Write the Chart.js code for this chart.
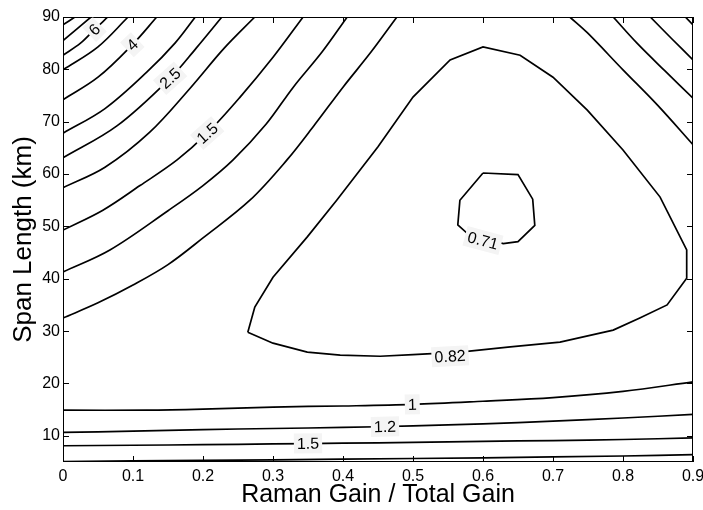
<!DOCTYPE html>
<html>
<head>
<meta charset="utf-8">
<script src="https://cdn.jsdelivr.net/npm/chart.js@4.4.0/dist/chart.umd.min.js"></script>
<style>
  html, body { margin: 0; padding: 0; background: #fff; }
  #wrap { width: 703px; height: 510px; }
</style>
</head>
<body>
<div id="wrap"><canvas id="chartContour" width="703" height="510"></canvas></div>
<script>
// contour lines as [gain ratio, span km] pairs
const lev071 = [[0.6,60.2],[0.65,59.9],[0.671,55.2],[0.674,50.2],[0.65,47.1],[0.629,46.7],[0.579,48.5],[0.564,50.3],[0.567,55],[0.6,60.2]];
const lev082 = [[0.264,29.8],[0.274,34.6],[0.3,40.3],[0.349,48],[0.391,55],[0.45,65.2],[0.5,74.7],[0.553,81.8],[0.6,84.3],[0.653,82.7],[0.7,78.5],[0.749,72.2],[0.8,64.6],[0.853,55.6],[0.891,45.5],[0.891,40.1],[0.863,35],[0.824,32.5],[0.786,30.2],[0.71,27.9],[0.639,27],[0.567,26],[0.5,25.5],[0.453,25.2],[0.396,25.4],[0.349,26],[0.3,27.7],[0.264,29.8]];

const lev1Upper = [[0,32.5],[0.05,35.4],[0.1,38.8],[0.15,42.7],[0.2,47.8],[0.267,55],[0.32,62.7],[0.36,69.5],[0.4,76.6],[0.44,83.3],[0.477,90]];
const lev12Upper = [[0,41.3],[0.067,45.5],[0.15,53],[0.2,57.8],[0.243,62.7],[0.29,69.5],[0.329,76.6],[0.37,83.3],[0.406,90]];
const lev15Upper = [[0,49.3],[0.057,53.1],[0.11,57.8],[0.163,62.7],[0.206,67.8],[0.253,74.7],[0.3,82.3],[0.343,90]];
const lev2Upper = [[0,57.4],[0.06,61.3],[0.124,68],[0.181,76.3],[0.23,84],[0.274,90]];
const lev25Upper = [[0,63.1],[0.077,69.2],[0.153,78.3],[0.19,84],[0.227,90]];
const lev3Upper = [[0,67.8],[0.06,72.5],[0.12,79.5],[0.16,85],[0.189,90]];
const lev4Upper = [[0,74.2],[0.05,78.5],[0.099,84.7],[0.134,90]];
const lev5Upper = [[0,79.9],[0.05,84.3],[0.093,90]];
const lev6Upper = [[0,82.7],[0.025,85],[0.045,87.6],[0.064,90]];
const lev7Upper = [[0,85.5],[0.04,90]];
const lev8Upper = [[0,88.5],[0.017,90]];

const lev1Right = [[0.724,90],[0.749,87],[0.8,79.9],[0.849,73.2],[0.9,65.6]];
const lev12Right = [[0.786,90],[0.82,85],[0.86,79.7],[0.9,74.5]];
const lev15Right = [[0.839,90],[0.87,85.8],[0.9,81.8]];
const lev2Right = [[0.889,90],[0.9,88.5]];

const lev1Lower = [[0,14.9],[0.12,14.9],[0.2,15.1],[0.3,15.5],[0.4,15.7],[0.5,16],[0.6,16.6],[0.7,17.3],[0.8,18.5],[0.9,20.3]];
const lev12Lower = [[0,10.65],[0.1,10.9],[0.2,11.2],[0.3,11.4],[0.4,11.6],[0.5,11.9],[0.6,12.3],[0.7,12.8],[0.8,13.4],[0.9,14.1]];
const lev15Lower = [[0,8.1],[0.1,8.2],[0.2,8.3],[0.3,8.45],[0.4,8.6],[0.5,8.75],[0.6,8.95],[0.7,9.1],[0.8,9.3],[0.9,9.6]];
const lev2Lower = [[0,5.1],[0.2,5.3],[0.4,5.55],[0.6,5.8],[0.8,6.15],[0.9,6.4]];

const smoothLines = [lev1Upper, lev12Upper, lev15Upper, lev2Upper, lev25Upper, lev3Upper, lev4Upper,
  lev5Upper, lev6Upper, lev7Upper, lev8Upper, lev1Right, lev12Right, lev15Right, lev2Right,
  lev1Lower, lev12Lower, lev15Lower, lev2Lower];
const polyLines = [lev082, lev071];

// inline contour labels
const labelText = ['6', '4', '2.5', '1.5', '0.71', '0.82', '1', '1.2', '1.5'];
const labelX = [0.045, 0.099, 0.153, 0.206, 0.6, 0.553, 0.499, 0.46, 0.35];
const labelY = [87.6, 84.7, 78.3, 67.8, 47.3, 25.2, 16.0, 11.75, 8.55];

const FONT = '"Liberation Sans", Arial, Helvetica, sans-serif';

const toPts = c => c.map(p => ({ x: p[0], y: p[1] }));
const datasets = [
  ...smoothLines.map(c => ({ data: toPts(c), tension: 0.35 })),
  ...polyLines.map(c => ({ data: toPts(c), tension: 0 }))
].map(d => Object.assign(d, {
  showLine: true, pointRadius: 0, borderColor: '#000', borderWidth: 1.7, fill: false
}));

function segDist(px, py, ax, ay, bx, by) {
  const dx = bx - ax, dy = by - ay;
  const len = dx * dx + dy * dy || 1;
  let t = ((px - ax) * dx + (py - ay) * dy) / len;
  t = Math.max(0, Math.min(1, t));
  return Math.hypot(px - (ax + t * dx), py - (ay + t * dy));
}

// box with inward tick marks, matlab style
const frame = {
  id: 'frame',
  afterDatasetsDraw(chart) {
    const { ctx, chartArea: a, scales: { x, y } } = chart;
    ctx.save();
    ctx.strokeStyle = '#000';
    ctx.lineWidth = 1;
    ctx.strokeRect(a.left + 0.5, a.top + 0.5, a.right - a.left - 1, a.bottom - a.top - 1);
    ctx.beginPath();
    x.ticks.forEach(t => {
      const px = Math.round(x.getPixelForValue(t.value)) + 0.5;
      ctx.moveTo(px, a.bottom); ctx.lineTo(px, a.bottom - 6);
      ctx.moveTo(px, a.top); ctx.lineTo(px, a.top + 6);
    });
    y.ticks.forEach(t => {
      const py = Math.round(y.getPixelForValue(t.value)) + 0.5;
      ctx.moveTo(a.left, py); ctx.lineTo(a.left + 6, py);
      ctx.moveTo(a.right, py); ctx.lineTo(a.right - 6, py);
    });
    ctx.stroke();
    ctx.restore();
  }
};

const contourLabels = {
  id: 'contourLabels',
  afterDatasetsDraw(chart) {
    const { ctx, scales: { x, y } } = chart;
    ctx.save();
    ctx.font = '16px ' + FONT;
    ctx.textAlign = 'center';
    ctx.textBaseline = 'middle';
    labelText.forEach((txt, i) => {
      const px = x.getPixelForValue(labelX[i]);
      const py = y.getPixelForValue(labelY[i]);
      let best = Infinity, ang = 0;
      chart.data.datasets.forEach(ds => {
        for (let k = 1; k < ds.data.length; k++) {
          const ax = x.getPixelForValue(ds.data[k - 1].x), ay = y.getPixelForValue(ds.data[k - 1].y);
          const bx = x.getPixelForValue(ds.data[k].x), by = y.getPixelForValue(ds.data[k].y);
          const d = segDist(px, py, ax, ay, bx, by);
          if (d < best) { best = d; ang = Math.atan2(by - ay, bx - ax); }
        }
      });
      if (ang > Math.PI / 2) ang -= Math.PI;
      if (ang < -Math.PI / 2) ang += Math.PI;
      const w = ctx.measureText(txt).width + 6;
      ctx.save();
      ctx.translate(px, py);
      ctx.rotate(ang);
      ctx.fillStyle = '#f4f4f4';
      ctx.fillRect(-w / 2, -10, w, 20);
      ctx.fillStyle = '#000';
      ctx.fillText(txt, 0, 1);
      ctx.restore();
    });
    ctx.restore();
  }
};

new Chart(document.getElementById('chartContour').getContext('2d'), {
  type: 'scatter',
  data: { datasets },
  options: {
    responsive: false,
    animation: false,
    devicePixelRatio: 1,
    layout: { padding: { top: 17, right: 10, left: 0, bottom: 0 } },
    plugins: { legend: { display: false }, tooltip: { enabled: false } },
    scales: {
      x: {
        type: 'linear', min: 0, max: 0.9,
        grid: { display: false, drawTicks: false },
        border: { display: false },
        ticks: {
          stepSize: 0.1, padding: 5, color: '#000',
          font: { family: FONT, size: 16 },
          callback: v => String(Number(v.toFixed(1)))
        },
        title: {
          display: true, text: 'Raman Gain / Total Gain', color: '#000',
          font: { family: FONT, size: 25 }, padding: { top: 3, bottom: 0 }
        },
        afterFit: s => { s.height = 48; s.paddingLeft = 0; s.paddingRight = 0; }
      },
      y: {
        type: 'linear', min: 5, max: 90,
        grid: { display: false, drawTicks: false },
        border: { display: false },
        afterBuildTicks: s => { s.ticks = s.ticks.filter(t => t.value % 10 === 0); },
        ticks: {
          stepSize: 10, padding: 3, color: '#000',
          font: { family: FONT, size: 16 }
        },
        title: {
          display: true, text: 'Span Length (km)', color: '#000',
          font: { family: FONT, size: 26 }, padding: { top: 8, bottom: 0 }
        },
        afterFit: s => { s.width = 63; }
      }
    }
  },
  plugins: [frame, contourLabels]
});
</script>
</body>
</html>
